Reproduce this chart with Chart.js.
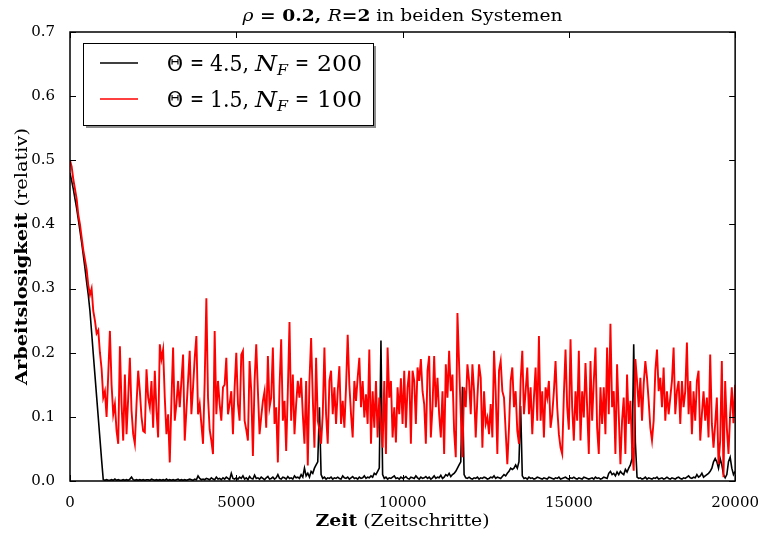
<!DOCTYPE html>
<html>
<head>
<meta charset="utf-8">
<script src="https://cdn.jsdelivr.net/npm/chart.js@4.4.0/dist/chart.umd.min.js"></script>
<style>
  html, body { margin: 0; padding: 0; background: #fff; }
  canvas { display: block; }
</style>
</head>
<body>
<canvas id="chart" width="764" height="536"></canvas>
<script>
// time step between samples (Zeitschritte)
var STEP = 50;

var xTicks = [0, 5000, 10000, 15000, 20000];
var yTicks = [0, 0.1, 0.2, 0.3, 0.4, 0.5, 0.6, 0.7];

// legend parameters: Theta and N_F of each system
var thetaVals = ['4.5', '1.5'];
var nfVals = ['200', '100'];

// Theta = 4.5, N_F = 200 (black)
var black = [
  0.48, 0.468, 0.455, 0.44, 0.425, 0.408, 0.39, 0.372, 0.352, 0.332,
  0.31, 0.29, 0.265, 0.232, 0.198, 0.165, 0.132, 0.099, 0.066, 0.033,
  0.002,
  0.001, 0.002, 0.001, 0.001, 0.002, 0.001, 0.003, 0.001, 0.002, 0.001,
  0.001, 0.002, 0.001, 0.002, 0.001, 0.003, 0.006, 0.002, 0.001, 0.002,
  0.001, 0.002, 0.001, 0.002, 0.001, 0.002, 0.002, 0.001, 0.003, 0.002,
  0.001, 0.002, 0.001, 0.002, 0.001, 0.002, 0.001, 0.003, 0.001, 0.002,
  0.001, 0.002, 0.001, 0.002, 0.003, 0.001, 0.002, 0.001, 0.002, 0.001,
  0.002, 0.003, 0.002, 0.001, 0.003, 0.002, 0.008, 0.004, 0.002, 0.003,
  0.002, 0.004, 0.003, 0.002, 0.005, 0.003, 0.002, 0.006, 0.003, 0.004,
  0.002, 0.005, 0.003, 0.006, 0.004, 0.002, 0.012, 0.004, 0.003, 0.005,
  0.003, 0.006, 0.004, 0.008, 0.003, 0.005, 0.002, 0.007, 0.004, 0.003,
  0.009, 0.004, 0.005, 0.003, 0.006, 0.004, 0.002, 0.005, 0.007, 0.003,
  0.004, 0.006, 0.003, 0.005, 0.01, 0.004, 0.003, 0.006, 0.005, 0.003,
  0.007, 0.004, 0.005, 0.003, 0.008, 0.005, 0.006, 0.004, 0.01, 0.006,
  0.02, 0.008, 0.012, 0.006, 0.015, 0.012, 0.02, 0.025, 0.03, 0.115,
  0.01, 0.004, 0.006, 0.003, 0.005, 0.004, 0.006, 0.003, 0.005, 0.004,
  0.006, 0.004, 0.003, 0.008, 0.005, 0.004, 0.006, 0.003, 0.005, 0.007,
  0.004, 0.005, 0.003, 0.006, 0.004, 0.005, 0.008, 0.004, 0.006, 0.005,
  0.008, 0.006, 0.012, 0.01,
  0.015, 0.02, 0.219, 0.01, 0.004, 0.006,
  0.003, 0.005, 0.004, 0.006, 0.008, 0.004, 0.005, 0.003, 0.006, 0.004,
  0.005, 0.007, 0.004, 0.003, 0.006, 0.005, 0.004, 0.008, 0.005, 0.003,
  0.006, 0.004, 0.005, 0.007, 0.004, 0.006, 0.003, 0.005, 0.008, 0.004,
  0.006, 0.005, 0.009, 0.004, 0.006, 0.01, 0.008, 0.012, 0.007, 0.01,
  0.012, 0.015, 0.02, 0.025, 0.03, 0.147, 0.01, 0.005, 0.004, 0.006,
  0.004, 0.003, 0.005, 0.004, 0.006, 0.003, 0.005, 0.004, 0.006, 0.005,
  0.003, 0.004, 0.006, 0.005, 0.008, 0.004, 0.006, 0.005, 0.004, 0.007,
  0.01, 0.008, 0.012, 0.015, 0.02,
  0.018, 0.02, 0.025, 0.02, 0.03, 0.117, 0.008,
  0.004, 0.005, 0.003, 0.006, 0.004, 0.005, 0.003, 0.004, 0.006, 0.005,
  0.004, 0.003, 0.005, 0.004, 0.003, 0.006, 0.005, 0.004, 0.003, 0.005,
  0.004, 0.006, 0.003, 0.004, 0.005, 0.006, 0.004, 0.003, 0.005, 0.004,
  0.006, 0.004, 0.003, 0.005, 0.004, 0.003, 0.006, 0.005, 0.004, 0.003,
  0.004, 0.005, 0.003, 0.006, 0.004, 0.005, 0.003, 0.004, 0.006, 0.005,
  0.004, 0.012, 0.015, 0.01, 0.012, 0.008, 0.014, 0.01,
  0.015, 0.012, 0.01, 0.018, 0.014, 0.02, 0.025, 0.035, 0.213, 0.06, 0.006, 0.004,
  0.005, 0.003, 0.004, 0.006, 0.003, 0.005, 0.004, 0.003, 0.005, 0.004,
  0.006, 0.003, 0.004, 0.005, 0.003, 0.004, 0.006, 0.004, 0.003, 0.005,
  0.004, 0.003, 0.005, 0.006, 0.004, 0.003, 0.005, 0.004, 0.006, 0.008,
  0.005, 0.004, 0.006, 0.005, 0.01, 0.006, 0.008, 0.012, 0.006, 0.008,
  0.01, 0.012, 0.015, 0.02,
  0.03, 0.035, 0.03, 0.02, 0.035, 0.025, 0.01, 0.005, 0.01, 0.03,
  0.037, 0.02, 0.01, 0.015
];

// Theta = 1.5, N_F = 100 (red)
var red = [
  0.50, 0.49, 0.47, 0.455, 0.44, 0.415, 0.40, 0.38, 0.36, 0.345,
  0.33, 0.305, 0.29, 0.30, 0.265, 0.25, 0.23, 0.235, 0.20, 0.175,
  0.13, 0.14, 0.10, 0.166, 0.234, 0.15, 0.104, 0.12, 0.078, 0.058,
  0.21, 0.12, 0.063, 0.166, 0.073, 0.13, 0.192, 0.11, 0.073, 0.058,
  0.12, 0.172, 0.14, 0.10, 0.078, 0.076, 0.174, 0.13, 0.115, 0.156,
  0.083, 0.172, 0.11, 0.068, 0.213, 0.19, 0.205, 0.13, 0.073, 0.104,
  0.029, 0.125, 0.208, 0.094, 0.12, 0.156, 0.115, 0.156, 0.197, 0.063,
  0.11, 0.156, 0.203, 0.104, 0.146, 0.192, 0.226, 0.104, 0.12, 0.089,
  0.058, 0.156, 0.285, 0.13, 0.08, 0.063, 0.042, 0.234, 0.104, 0.156,
  0.12, 0.094, 0.146, 0.15, 0.192, 0.104, 0.12, 0.14, 0.073, 0.146,
  0.20, 0.12, 0.094, 0.197, 0.203, 0.094, 0.08, 0.063, 0.187, 0.14,
  0.039, 0.156, 0.213, 0.14, 0.073, 0.10, 0.125, 0.14, 0.083, 0.195,
  0.115, 0.13, 0.208, 0.089, 0.115, 0.029, 0.146, 0.221, 0.094, 0.125,
  0.047, 0.14, 0.248, 0.094, 0.166, 0.073, 0.12, 0.156, 0.13, 0.161,
  0.104, 0.058, 0.156, 0.024, 0.156, 0.223, 0.13, 0.052, 0.192, 0.094,
  0.08, 0.058, 0.104, 0.208, 0.104, 0.058, 0.156, 0.172, 0.104, 0.146,
  0.089, 0.14, 0.179, 0.089, 0.125, 0.083, 0.146, 0.228, 0.15, 0.104,
  0.068, 0.156, 0.125, 0.161, 0.192, 0.115, 0.156, 0.099, 0.135, 0.089,
  0.205, 0.058, 0.14, 0.083, 0.156, 0.068, 0.13, 0.09, 0.052, 0.156,
  0.042, 0.208, 0.13, 0.156, 0.068, 0.115, 0.06, 0.146, 0.104, 0.16,
  0.089, 0.172, 0.083, 0.146, 0.172, 0.058, 0.172, 0.156, 0.089, 0.177,
  0.156, 0.19, 0.14, 0.12, 0.058, 0.172, 0.195, 0.068, 0.115, 0.195,
  0.115, 0.161, 0.104, 0.068, 0.14, 0.042, 0.182, 0.13, 0.203, 0.14,
  0.166, 0.078, 0.037, 0.262, 0.182, 0.104, 0.037, 0.146, 0.115, 0.182,
  0.156, 0.104, 0.182, 0.14, 0.068, 0.13, 0.182, 0.161, 0.052, 0.14,
  0.089, 0.099, 0.073, 0.12, 0.068, 0.203, 0.14, 0.042, 0.172, 0.187,
  0.14, 0.13, 0.078, 0.026, 0.083, 0.156, 0.177, 0.115, 0.14, 0.078,
  0.058, 0.156, 0.203, 0.104, 0.14, 0.177, 0.104, 0.146, 0.073, 0.13,
  0.177, 0.094, 0.226, 0.094, 0.14, 0.068, 0.146, 0.13, 0.156, 0.083,
  0.104, 0.14, 0.187, 0.115, 0.073, 0.052, 0.042, 0.135, 0.205, 0.115,
  0.08, 0.221, 0.115, 0.063, 0.14, 0.094, 0.203, 0.063, 0.14, 0.099,
  0.184, 0.115, 0.042, 0.187, 0.094, 0.156, 0.208, 0.083, 0.042, 0.146,
  0.089, 0.146, 0.073, 0.208, 0.104, 0.245, 0.115, 0.14, 0.042, 0.182,
  0.104, 0.026, 0.094, 0.13, 0.042, 0.166, 0.089, 0.125, 0.052, 0.016,
  0.19, 0.156, 0.115, 0.161, 0.094, 0.151, 0.187, 0.161, 0.125, 0.083,
  0.063, 0.094, 0.172, 0.205, 0.14, 0.161, 0.115, 0.177, 0.094, 0.14,
  0.104, 0.13, 0.156, 0.208, 0.104, 0.14, 0.156, 0.089, 0.156, 0.115,
  0.14, 0.216, 0.104, 0.156, 0.073, 0.14, 0.094, 0.156, 0.172, 0.063,
  0.104, 0.14, 0.094, 0.13, 0.068, 0.197, 0.089, 0.052, 0.089, 0.13,
  0.026, 0.063, 0.187, 0.006, 0.156, 0.083, 0.042, 0.104, 0.146, 0.09,
  0.15
];

var SERIF = "'DejaVu Serif', serif";

function toPoints(arr){
  return arr.map(function(v, i){ return {x: i * STEP, y: v}; });
}

// draws a row of text pieces, optionally squeezed/stretched to a target width
function drawParts(ctx, parts, x, y, width, align){
  var total = 0;
  parts.forEach(function(p){
    ctx.font = p.font;
    p.w = ctx.measureText(p.text).width;
    total += p.w;
  });
  var s = width ? width / total : 1;
  ctx.save();
  ctx.translate(x, y);
  ctx.scale(s, 1);
  var cx = align === 'center' ? -total / 2 : 0;
  ctx.textBaseline = 'alphabetic';
  ctx.textAlign = 'left';
  parts.forEach(function(p){
    ctx.font = p.font;
    ctx.fillText(p.text, cx, p.dy || 0);
    cx += p.w;
  });
  ctx.restore();
}

// one piece of text fitted between x0 and x1
function fitText(ctx, text, font, x0, x1, y){
  ctx.font = font;
  var w = ctx.measureText(text).width;
  ctx.save();
  ctx.translate(x0, y);
  ctx.scale((x1 - x0) / w, 1);
  ctx.fillText(text, 0, 0);
  ctx.restore();
}

var decorPlugin = {
  id: 'decor',
  afterDraw: function(chart){
    var ctx = chart.ctx;
    var a = chart.chartArea;
    var xs = chart.scales.x, ys = chart.scales.y;
    ctx.save();
    ctx.fillStyle = '#000';
    ctx.strokeStyle = '#000';

    // frame
    ctx.lineWidth = 1.5;
    ctx.strokeRect(a.left, a.top, a.right - a.left, a.bottom - a.top);

    // inward ticks on all four sides
    ctx.lineWidth = 1;
    ctx.beginPath();
    xTicks.forEach(function(v){
      var px = Math.round(xs.getPixelForValue(v)) + 0.5;
      ctx.moveTo(px, a.bottom); ctx.lineTo(px, a.bottom - 6);
      ctx.moveTo(px, a.top); ctx.lineTo(px, a.top + 6);
    });
    yTicks.forEach(function(v){
      var py = Math.round(ys.getPixelForValue(v)) + 0.5;
      ctx.moveTo(a.left, py); ctx.lineTo(a.left + 6, py);
      ctx.moveTo(a.right, py); ctx.lineTo(a.right - 6, py);
    });
    ctx.stroke();

    // title
    drawParts(ctx, [
      {text: 'ρ', font: 'italic 17px ' + SERIF},
      {text: ' = 0.2, ', font: 'bold 17px ' + SERIF},
      {text: 'R', font: 'italic 17px ' + SERIF},
      {text: '=2', font: 'bold 17px ' + SERIF},
      {text: ' in beiden Systemen', font: '17px ' + SERIF}
    ], (a.left + a.right) / 2, 21, 320, 'center');

    // x axis label
    drawParts(ctx, [
      {text: 'Zeit', font: 'bold 17px ' + SERIF},
      {text: ' (Zeitschritte)', font: '17px ' + SERIF}
    ], (a.left + a.right) / 2, 526, 174, 'center');

    // y axis label
    ctx.save();
    ctx.translate(27, (a.top + a.bottom) / 2);
    ctx.rotate(-Math.PI / 2);
    drawParts(ctx, [
      {text: 'Arbeitslosigkeit', font: 'bold 17px ' + SERIF},
      {text: ' (relativ)', font: '17px ' + SERIF}
    ], 0, 0, 257, 'center');
    ctx.restore();

    // legend box with shadow
    var lx = 83, ly = 43, lw = 290, lh = 82;
    ctx.fillStyle = '#8c8c8c';
    ctx.fillRect(lx + 3, ly + 3, lw, lh);
    ctx.fillStyle = '#fff';
    ctx.fillRect(lx, ly, lw, lh);
    ctx.lineWidth = 1;
    ctx.strokeStyle = '#000';
    ctx.strokeRect(lx + 0.5, ly + 0.5, lw, lh);

    var rows = [63, 99];
    chart.data.datasets.forEach(function(ds, i){
      var yy = rows[i];
      ctx.strokeStyle = ds.borderColor;
      ctx.lineWidth = 1.5;
      ctx.beginPath();
      ctx.moveTo(100, yy); ctx.lineTo(138, yy);
      ctx.stroke();
      ctx.fillStyle = '#000';
      var base = yy + 8;
      var f = '23px ' + SERIF, fi = 'italic 23px ' + SERIF;
      fitText(ctx, 'Θ', f, 167, 183, base);
      fitText(ctx, '=', f, 190, 204, base - 1);
      fitText(ctx, thetaVals[i] + ',', f, 210, 249, base);
      fitText(ctx, 'N', fi, 255, 277, base);
      fitText(ctx, 'F', 'italic 15px ' + SERIF, 277, 288, base + 4);
      fitText(ctx, '=', f, 295, 309, base - 1);
      fitText(ctx, nfVals[i], f, 317, 362, base);
    });
    ctx.restore();
  }
};

var myChart = new Chart(document.getElementById('chart'), {
  type: 'line',
  data: {
    datasets: [
      {
        label: 'Θ = ' + thetaVals[0] + ', N_F = ' + nfVals[0],
        data: toPoints(black),
        borderColor: '#000000',
        backgroundColor: '#000000',
        borderWidth: 1.6,
        order: 2
      },
      {
        label: 'Θ = ' + thetaVals[1] + ', N_F = ' + nfVals[1],
        data: toPoints(red),
        borderColor: '#ff0000',
        backgroundColor: '#ff0000',
        borderWidth: 1.9,
        order: 1
      }
    ]
  },
  options: {
    responsive: false,
    animation: false,
    devicePixelRatio: 1,
    parsing: false,
    elements: {
      point: { radius: 0 },
      line: { tension: 0 }
    },
    layout: { padding: { top: 32, right: 24, left: 0, bottom: 0 } },
    plugins: {
      legend: { display: false },
      title: { display: false },
      tooltip: { enabled: false }
    },
    scales: {
      x: {
        type: 'linear',
        min: 0,
        max: 20000,
        grid: { display: false },
        border: { display: false },
        ticks: {
          color: '#000',
          font: { family: SERIF, size: 15 },
          padding: 5,
          maxRotation: 0,
          autoSkip: false,
          callback: function(v){ return String(v); }
        },
        afterBuildTicks: function(s){ s.ticks = xTicks.map(function(v){ return {value: v}; }); },
        afterFit: function(s){ s.height = 55; }
      },
      y: {
        min: 0,
        max: 0.7,
        grid: { display: false },
        border: { display: false },
        ticks: {
          color: '#000',
          font: { family: SERIF, size: 15 },
          padding: 7,
          callback: function(v){ return Number(v).toFixed(1); }
        },
        afterBuildTicks: function(s){ s.ticks = yTicks.map(function(v){ return {value: v}; }); },
        afterFit: function(s){ s.width = 70; }
      }
    }
  },
  plugins: [decorPlugin]
});
</script>
</body>
</html>
